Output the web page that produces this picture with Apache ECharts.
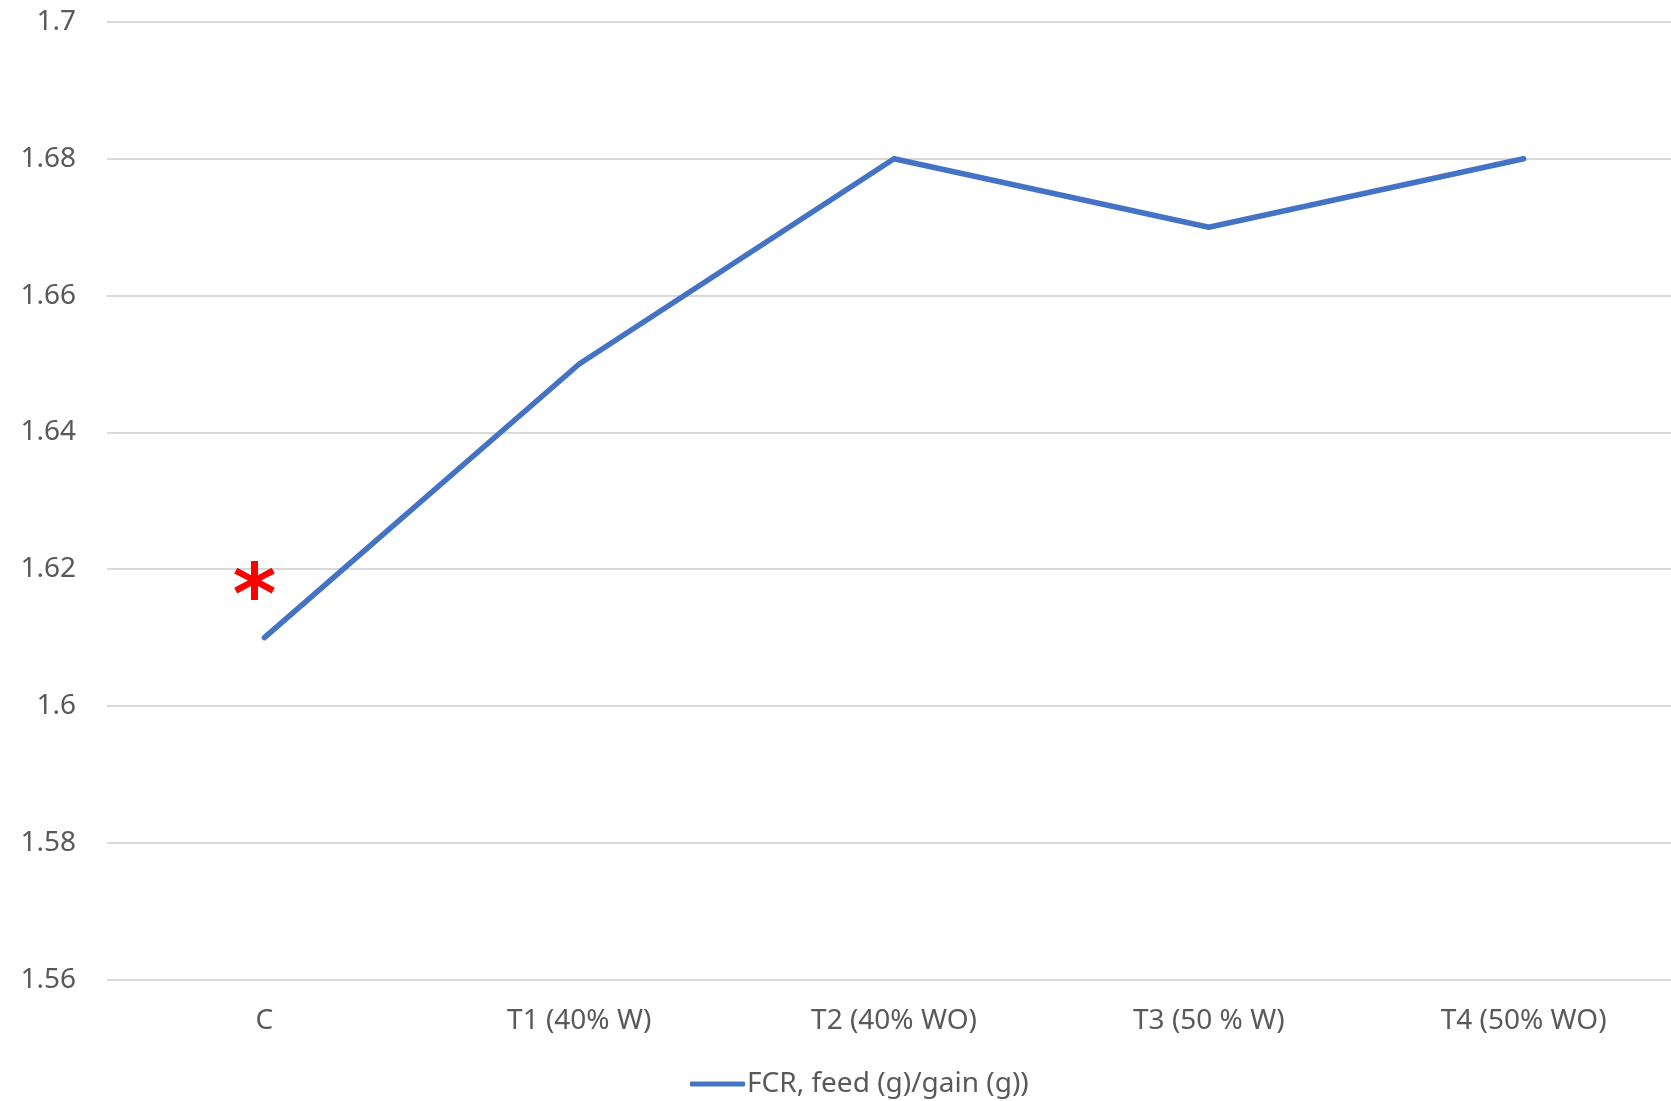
<!DOCTYPE html>
<html>
<head>
<meta charset="utf-8">
<style>
  html, body { margin: 0; padding: 0; background: #ffffff; overflow: hidden; }
  /* plot area runs slightly past the right edge of the page */
  #chart { width: 1681px; height: 1101px; }
</style>
<script src="https://cdn.jsdelivr.net/npm/echarts@6/dist/echarts.min.js"></script>
</head>
<body>
<div id="chart"></div>
<script>
// Treatment groups along the x axis
const categories = ['C', 'T1 (40% W)', 'T2 (40% WO)', 'T3 (50 % W)', 'T4 (50% WO)'];
// Feed conversion ratio for each group
const fcrValues = [1.61, 1.65, 1.68, 1.67, 1.68];
const seriesName = 'FCR, feed (g)/gain (g))';
// Value axis range
const yMin = 1.56;
const yMax = 1.7;
const yStep = 0.02;
// Group flagged as significantly different
const flaggedIndex = 0;
const flagText = '*';

const fontFamily = "'Noto Sans', 'Open Sans', sans-serif";
const textColor = '#595959';
const lineColor = '#4472c4';

const chart = echarts.init(document.getElementById('chart'), null, { renderer: 'canvas' });
chart.setOption({
  animation: false,
  backgroundColor: '#ffffff',
  textStyle: { fontFamily: fontFamily },
  grid: { left: 107, top: 22, right: 0, height: 957.6, containLabel: false },
  legend: {
    data: [{ name: seriesName, icon: 'roundRect' }],
    left: 685,
    top: 1065,
    itemWidth: 55,
    itemHeight: 5,
    itemGap: 10,
    itemStyle: { color: lineColor },
    textStyle: { color: textColor, fontSize: 28, fontFamily: fontFamily, padding: [0, 0, 0, -3] }
  },
  xAxis: {
    type: 'category',
    data: categories,
    boundaryGap: true,
    axisLine: { show: false },
    axisTick: { show: false },
    axisLabel: { color: textColor, fontSize: 28, fontFamily: fontFamily, margin: 27 }
  },
  yAxis: {
    type: 'value',
    min: yMin,
    max: yMax,
    interval: yStep,
    axisLine: { show: false },
    axisTick: { show: false },
    splitLine: { lineStyle: { color: '#d9d9d9', width: 2 } },
    axisLabel: {
      color: textColor,
      fontSize: 28,
      fontFamily: fontFamily,
      margin: 31,
      formatter: v => String(+v.toFixed(2))
    }
  },
  series: [{
    name: seriesName,
    type: 'line',
    data: fcrValues,
    symbol: 'none',
    lineStyle: { color: lineColor, width: 5.5, cap: 'round', join: 'round' },
    itemStyle: { color: lineColor },
    markPoint: {
      symbol: 'circle',
      symbolSize: 1,
      itemStyle: { color: 'rgba(0,0,0,0)' },
      label: {
        show: true,
        formatter: flagText,
        position: 'inside',
        offset: [-10, -36],
        color: '#ff0000',
        fontSize: 84,
        fontWeight: 'bold',
        fontFamily: 'DejaVu Sans'
      },
      data: [{ coord: [categories[flaggedIndex], fcrValues[flaggedIndex]] }]
    }
  }]
});
</script>
</body>
</html>
